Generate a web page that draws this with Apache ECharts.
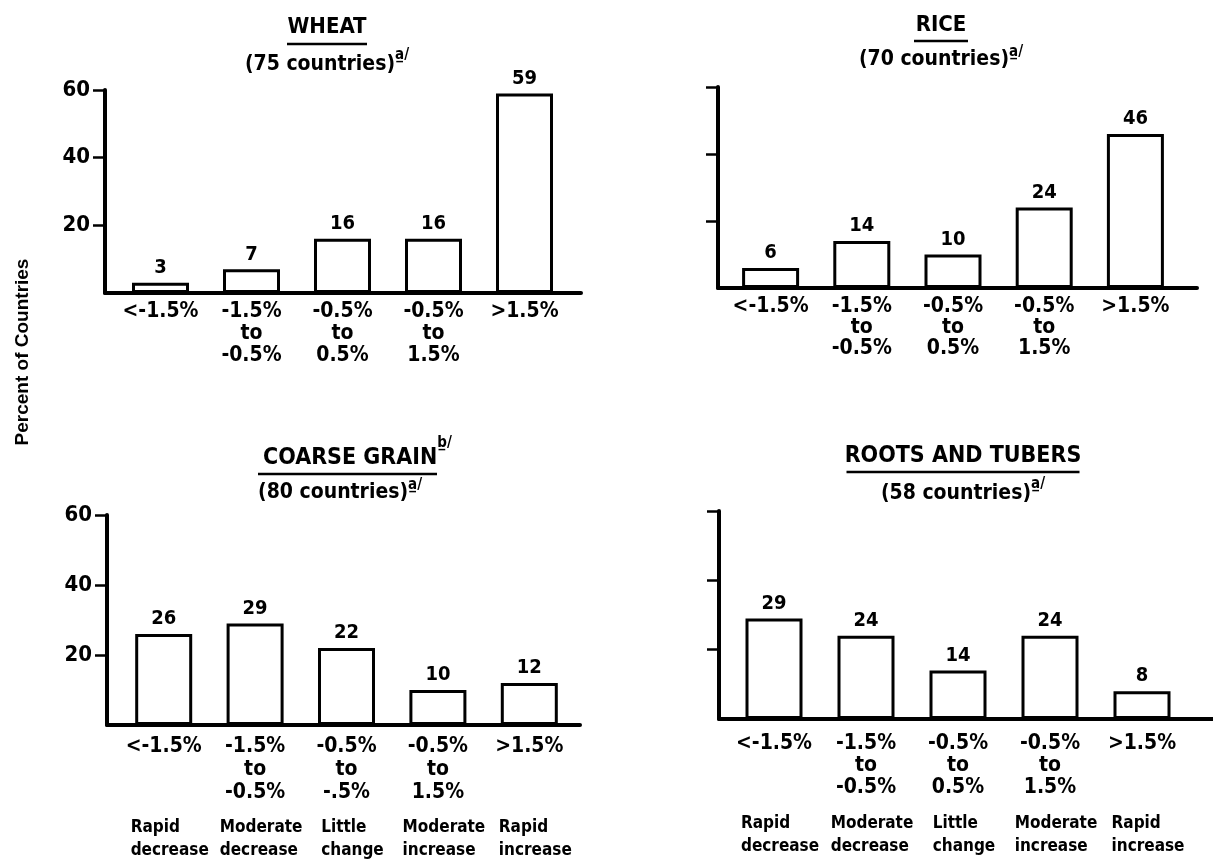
<!DOCTYPE html>
<html>
<head>
<meta charset="utf-8">
<script src="https://cdn.jsdelivr.net/npm/echarts@6/dist/echarts.min.js"></script>
<style>
html,body{margin:0;padding:0;background:#fff;}
#chart{width:1213px;height:863px;}
</style>
</head>
<body>
<div id="chart"></div>
<script>
// ---- data ----
const categories = ['<-1.5%', '-1.5%\nto\n-0.5%', '-0.5%\nto\n0.5%', '-0.5%\nto\n1.5%', '>1.5%'];
const coarseCategories = ['<-1.5%', '-1.5%\nto\n-0.5%', '-0.5%\nto\n-.5%', '-0.5%\nto\n1.5%', '>1.5%'];
const descriptors = ['Rapid\ndecrease', 'Moderate\ndecrease', 'Little\nchange', 'Moderate\nincrease', 'Rapid\nincrease'];
const wheatValues = [3, 7, 16, 16, 59];
const riceValues = [6, 14, 10, 24, 46];
const coarseValues = [26, 29, 22, 10, 12];
const rootsValues = [29, 24, 14, 24, 8];
const yTickValues = [20, 40, 60];
const yMin = 0, yMax = 60, yInterval = 20;

const FONT = "'DejaVu Sans Condensed', 'Liberation Sans Narrow', 'DejaVu Sans', sans-serif";
const BLACK = '#000';
const W = 'bold';

// ---- layout (positions/styles only) ----
const panels = [
  { values: wheatValues, cats: categories, desc: false, labels: true,
    ext: [105, 90, 476, 203], cat: [115, 90, 455, 203], labelMargin: 8, lh: 22 },
  { values: riceValues, cats: categories, desc: false, labels: false,
    ext: [718, 87, 479, 201], cat: [725, 87, 456, 201], labelMargin: 8, lh: 21 },
  { values: coarseValues, cats: coarseCategories, desc: true, labels: true,
    ext: [107, 515, 473, 210], cat: [118, 515, 457, 210], labelMargin: 10, lh: 23, descMargin: 91 },
  { values: rootsValues, cats: categories, desc: true, labels: false,
    ext: [719, 511, 494, 208], cat: [728, 511, 460, 208], labelMargin: 14, lh: 22, descMargin: 93 }
];

const grid = [], xAxis = [], yAxis = [], series = [];
panels.forEach(p => {
  const gExt = grid.length;
  grid.push({ left: p.ext[0], top: p.ext[1], width: p.ext[2], height: p.ext[3] });
  const gCat = grid.length;
  grid.push({ left: p.cat[0], top: p.cat[1], width: p.cat[2], height: p.cat[3] });

  // extension grid: draws the axis lines and y ticks
  xAxis.push({ gridIndex: gExt, type: 'value', min: 0, max: 1,
    axisLine: { show: true, lineStyle: { color: BLACK, width: 4 } },
    axisTick: { show: false }, axisLabel: { show: false }, splitLine: { show: false } });
  yAxis.push({ gridIndex: gExt, type: 'value', min: yMin, max: yMax, interval: yInterval,
    axisLine: { show: true, lineStyle: { color: BLACK, width: 4 } },
    axisTick: { show: true, length: 12, lineStyle: { color: BLACK, width: 2.5 }, customValues: yTickValues },
    axisLabel: { show: p.labels, customValues: yTickValues, fontSize: 22, fontWeight: W, margin: 15, color: BLACK, fontFamily: FONT },
    splitLine: { show: false } });

  // category grid: bars and category labels
  const xCat = xAxis.length;
  xAxis.push({ gridIndex: gCat, type: 'category', data: p.cats,
    axisLine: { show: false }, axisTick: { show: false }, splitLine: { show: false },
    axisLabel: { interval: 0, fontSize: 21, fontWeight: W, lineHeight: p.lh, margin: p.labelMargin, color: BLACK, fontFamily: FONT } });
  if (p.desc) {
    xAxis.push({ gridIndex: gCat, type: 'category', data: descriptors, position: 'bottom',
      axisLine: { show: false }, axisTick: { show: false }, splitLine: { show: false },
      axisLabel: { interval: 0, margin: p.descMargin, padding: [0, 0, 0, 12],
        formatter: v => v.split('\n').map(s => '{d|' + s + '}').join('\n'),
        rich: { d: { align: 'left', fontSize: 17, fontWeight: W, lineHeight: 23, color: BLACK, fontFamily: FONT } } } });
  }
  const yCat = yAxis.length;
  yAxis.push({ gridIndex: gCat, type: 'value', min: yMin, max: yMax, show: false });

  series.push({ type: 'bar', xAxisIndex: xCat, yAxisIndex: yCat, data: p.values, barWidth: 57,
    silent: true,
    itemStyle: { color: '#fff', borderColor: BLACK, borderWidth: 3 },
    label: { show: true, position: 'top', distance: 5, fontSize: 20, fontWeight: W, color: BLACK, fontFamily: FONT } });
});

const richBase = (tw, tfs, tlh, ulh, slh) => ({
  t: { fontSize: tfs, fontWeight: W, lineHeight: tlh, color: BLACK, fontFamily: FONT },
  u: { width: tw, height: 2.5, lineHeight: ulh, backgroundColor: BLACK },
  s: { fontSize: 21, fontWeight: W, lineHeight: slh, color: BLACK, fontFamily: FONT },
  a: { fontSize: 15, fontWeight: W, lineHeight: 15, verticalAlign: 'top', color: BLACK, fontFamily: FONT }
});

const title = [
  { left: 322, top: 9, textAlign: 'center',
    text: '{t|WHEAT}\n{u| }\n{s|(75 countries)}{a|a\u0332/}',
    textStyle: { rich: richBase(80, 22, 26, 8, 34) } },
  { left: 936, top: 8, textAlign: 'center',
    text: '{t|RICE}\n{u| }\n{s|(70 countries)}{a|a\u0332/}',
    textStyle: { rich: richBase(54, 22, 24, 8, 30) } },
  { left: 253, top: 431, textAlign: 'left',
    text: '{t|COARSE GRAIN}{b|b\u0332/}\n{u| }\n{s|(80 countries)}{a|a\u0332/}',
    textStyle: { rich: Object.assign(richBase(174, 23, 34, 8, 30), {
      t: { fontSize: 23, fontWeight: W, lineHeight: 34, color: BLACK, fontFamily: FONT, verticalAlign: 'bottom', padding: [0, 0, 0, 5] },
      u: { width: 174, height: 2.5, lineHeight: 8, backgroundColor: BLACK, padding: [0, 0, 0, 5] },
      b: { fontSize: 15, fontWeight: W, lineHeight: 15, verticalAlign: 'top', color: BLACK, fontFamily: FONT }
    }) } },
  { left: 958, top: 440, textAlign: 'center',
    text: '{t|ROOTS AND TUBERS}\n{u| }\n{s|(58 countries)}{a|a\u0332/}',
    textStyle: { rich: richBase(233, 23, 22, 10, 34) } }
];

const chart = echarts.init(document.getElementById('chart'), null, { renderer: 'canvas' });
chart.setOption({
  backgroundColor: '#fff',
  animation: false,
  title, grid, xAxis, yAxis, series,
  graphic: [{
    type: 'text', x: 23, y: 352, rotation: Math.PI / 2,
    style: { text: 'Percent of Countries', fill: BLACK, align: 'center', verticalAlign: 'middle',
      font: 'bold 19px "Liberation Sans", Arial, sans-serif' }
  }]
});
</script>
</body>
</html>
